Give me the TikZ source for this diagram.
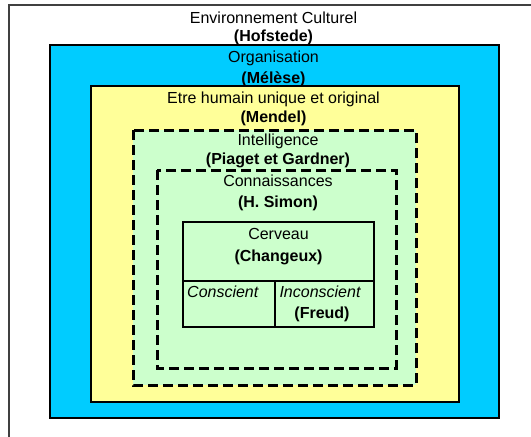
\documentclass[tikz,border=0pt]{standalone}
\usepackage{fontspec}
\setmainfont{Liberation Sans}
\usepackage{xcolor}
\usepackage{tikz}
\usetikzlibrary{positioning}
\definecolor{orgblue}{HTML}{00CCFF}
\definecolor{humyellow}{HTML}{FFFF99}
\definecolor{intgreen}{HTML}{CCFFCC}
\tikzset{
  envbox/.style={draw=black!75,line width=1.3pt},
  orgbox/.style={draw=black,fill=orgblue,line width=1.8pt},
  humbox/.style={draw=black,fill=humyellow,line width=1.8pt},
  intbox/.style={draw=black,fill=intgreen,line width=3pt,dash pattern=on 10pt off 5pt},
  cerbox/.style={draw=black,line width=1.4pt},
  lab/.style={font=\fontsize{16}{18}\selectfont,inner sep=0pt,anchor=base},
  blab/.style={lab,font=\fontsize{16}{18}\selectfont\bfseries},
  ilab/.style={lab,font=\fontsize{16}{18}\selectfont\itshape}
}
\begin{document}
\begin{tikzpicture}[x=1pt,y=-1pt]
  \useasboundingbox (0,0) rectangle (531,437);
  % nested boxes
  \draw[envbox] (9,437) -- (9,5) -- (531,5);
  \draw[orgbox] (50,45) rectangle (499,418);
  \draw[humbox] (91,86) rectangle (459,402);
  \draw[intbox] (133,130) rectangle (416,385);
  \draw[intbox] (157,170) rectangle (396,368);
  \draw[cerbox] (183,222) rectangle (374,327);
  \draw[cerbox] (183,281) -- (374,281);
  \draw[cerbox] (275,281) -- (275,327);
  % labels
  \node[lab] (env) at (273.5,23) {Environnement Culturel};
  \node[blab] (hof) at (273.5,41) {(Hofstede)};
  \node[lab] (org) at (273.5,62) {Organisation};
  \node[blab] (mel) at (273.5,83) {(Mélèse)};
  \node[lab] (hum) at (273.5,103) {Etre humain unique et original};
  \node[blab] (men) at (273.5,122) {(Mendel)};
  \node[lab] (int) at (278,145) {Intelligence};
  \node[blab] (pia) at (278,164) {(Piaget et Gardner)};
  \node[lab] (con) at (278,186) {Connaissances};
  \node[blab] (sim) at (278,207) {(H. Simon)};
  \node[lab] (cer) at (278.5,239) {Cerveau};
  \node[blab] (cha) at (278.5,261) {(Changeux)};
  \node[ilab,anchor=base west] (cons) at (187,297) {Conscient};
  \node[ilab] (incons) at (320,297) {Inconscient};
  \node[blab] (fre) at (322,318) {(Freud)};
\end{tikzpicture}
\end{document}
